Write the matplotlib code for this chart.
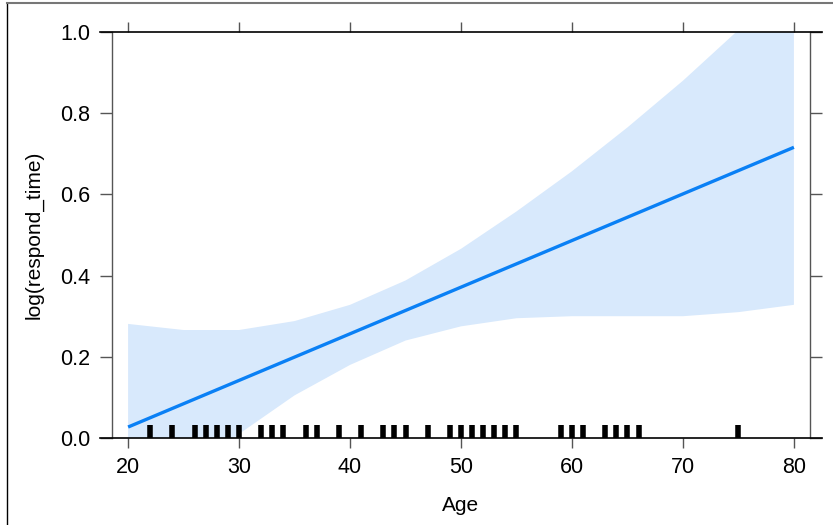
import matplotlib
matplotlib.use("Agg")
import matplotlib.pyplot as plt
from matplotlib.lines import Line2D

plt.rcParams['font.family'] = ['Liberation Sans', 'DejaVu Sans']

# Data
band_ages = [20, 25, 30, 35, 40, 45, 50, 55, 60, 65, 70, 75, 80]
band_upper = [0.281, 0.266, 0.266, 0.288, 0.328, 0.388, 0.466, 0.558, 0.657, 0.765, 0.880, 1.005, 1.13]
band_lower = [-0.22, -0.10, 0.01, 0.105, 0.18, 0.24, 0.275, 0.295, 0.300, 0.300, 0.300, 0.31, 0.328]
fit_ages = [20, 80]
fit_values = [0.027, 0.716]
rug_ages = [22, 24, 26, 27, 28, 29, 30, 32, 33, 34, 36, 37, 39, 41, 43, 44, 45, 47,
            49, 50, 51, 52, 53, 54, 55, 59, 60, 61, 63, 64, 65, 66, 75]
x_ticks = [20, 30, 40, 50, 60, 70, 80]
y_ticks = [0.0, 0.2, 0.4, 0.6, 0.8, 1.0]
y_ticklabels = ["0.0", "0.2", "0.4", "0.6", "0.8", "1.0"]

W, H = 833, 525
fig = plt.figure(figsize=(W / 100, H / 100), dpi=100)
L, R, T, B = 112, 810, 32, 438
ax = fig.add_axes([L / W, 1 - B / H, (R - L) / W, (B - T) / H])

ax.fill_between(band_ages, band_lower, band_upper, color="#d8e9fc", linewidth=0, zorder=1)
ax.plot(fit_ages, fit_values, color="#0a80f5", linewidth=2.4, zorder=3, solid_capstyle="butt")
for a in rug_ages:
    ax.plot([a, a], [0, 0.032], color="black", linewidth=4.0, solid_capstyle="butt", zorder=4)

ax.set_xlim(18.55, 81.45)
ax.set_ylim(0, 1)

for s in ["top", "bottom"]:
    ax.spines[s].set_visible(False)
for s in ["left", "right"]:
    ax.spines[s].set_color("#555555")
    ax.spines[s].set_linewidth(1.0)

ext = 12 / (R - L)
for yy in [0, 1]:
    ax.plot([-ext, 1 + ext], [yy, yy], transform=ax.transAxes, color="black",
            linewidth=1.2, clip_on=False, zorder=5)

ax.set_xticks(x_ticks)
ax.set_yticks(y_ticks)
ax.set_yticklabels(y_ticklabels)
ax.tick_params(axis="x", which="both", direction="out", length=7.5, width=1.0,
               color="#555555", top=True, bottom=True, labeltop=False, labelsize=15.5,
               pad=6, labelcolor="black")
ax.tick_params(axis="y", which="both", direction="out", length=8.6, width=1.0,
               color="#555555", left=True, right=True, labelright=False, labelsize=15.5,
               pad=7, labelcolor="black")

ax.set_xlabel("Age", fontsize=15, labelpad=13)
ax.set_ylabel("log(respond_time)", fontsize=15, labelpad=12)

# screenshot border
fig.add_artist(Line2D([7 / W, 7 / W], [0, 1 - 3 / H], color="black", linewidth=1.0))
fig.add_artist(Line2D([7 / W, 1], [1 - 3 / H, 1 - 3 / H], color="#777777", linewidth=1.5))

fig.savefig("out.png", dpi=100)
